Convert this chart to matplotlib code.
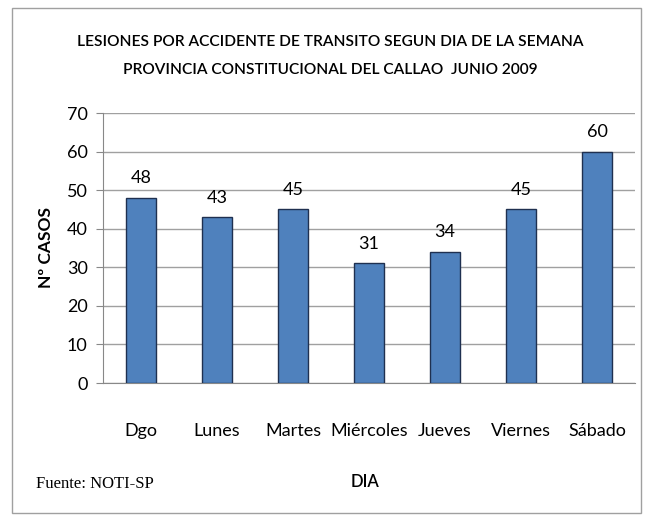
import matplotlib
matplotlib.use("Agg")
import matplotlib.pyplot as plt
from matplotlib.patches import Rectangle

dias = ["Dgo", "Lunes", "Martes", "Miércoles", "Jueves", "Viernes", "Sábado"]
casos = [48, 43, 45, 31, 34, 45, 60]
y_ticks = [0, 10, 20, 30, 40, 50, 60, 70]

narrow = ["Lato", "DejaVu Sans"]

fig = plt.figure(figsize=(6.59, 5.2), dpi=100)
ax = fig.add_axes([103 / 659, 1 - 383 / 520, 532 / 659, 270 / 520])

x = range(len(dias))
ax.bar(x, casos, width=0.4, color="#4F81BD", edgecolor="#1F3050", linewidth=1.0, zorder=3)

for xi, v in zip(x, casos):
    ax.text(xi, v + 3.0, str(v), ha="center", va="bottom", fontsize=13, family=narrow, zorder=4)

ax.set_xlim(-0.5, len(dias) - 0.5)
ax.set_ylim(0, 70)
ax.set_yticks(y_ticks)
ax.set_xticks(list(x))
ax.set_xticklabels(dias, family=narrow, fontsize=13)
ax.set_yticklabels([str(t) for t in y_ticks], family=narrow, fontsize=13)
ax.tick_params(axis="x", length=0, pad=29)
ax.tick_params(axis="y", length=5, color="#888888", pad=6)
ax.grid(axis="y", color="#A0A0A0", linewidth=1.0, zorder=0)
for s in ["top", "right"]:
    ax.spines[s].set_visible(False)
ax.spines["left"].set_color("#888888")
ax.spines["bottom"].set_color("#888888")

ax.set_ylabel("Nº CASOS", fontsize=12.5, fontweight="bold", family=narrow, labelpad=9)

fig.text(365 / 659, 1 - 482 / 520, "DIA", ha="center", va="center",
         fontsize=12, fontweight="semibold", family=narrow)
fig.text(330 / 659, 1 - 42 / 520, "LESIONES POR ACCIDENTE DE TRANSITO SEGUN DIA DE LA SEMANA",
         ha="center", va="center", fontsize=11.2, fontweight="semibold", family=narrow)
fig.text(330 / 659, 1 - 70 / 520, "PROVINCIA CONSTITUCIONAL DEL CALLAO  JUNIO 2009",
         ha="center", va="center", fontsize=11.2, fontweight="semibold", family=narrow)
fig.text(36 / 659, 1 - 484 / 520, "Fuente: NOTI-SP", ha="left", va="center",
         fontsize=12, family=["Liberation Serif", "DejaVu Serif"])

fig.patches.append(Rectangle((12 / 659, 1 - 513 / 520), 629 / 659, 505 / 520,
                             transform=fig.transFigure, fill=False,
                             edgecolor="#A0A0A0", linewidth=1.0))

fig.savefig("out.png", dpi=100)
